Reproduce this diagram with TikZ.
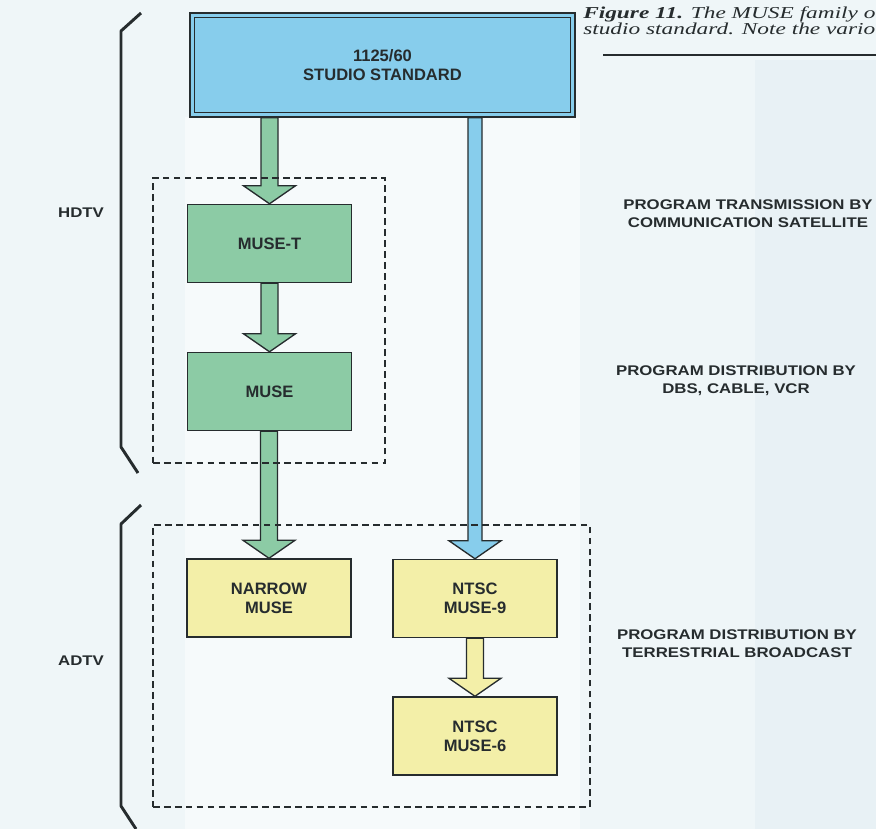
\documentclass[tikz,border=0pt]{standalone}
\usepackage{fontspec}
\setmainfont{Liberation Sans}
\newfontfamily\capfont[FakeStretch=1.4]{Liberation Serif}
\newfontfamily\labfont[FakeStretch=1.2]{Liberation Sans}
\usetikzlibrary{calc}
\definecolor{bgc}{RGB}{239,246,248}
\definecolor{bgw}{RGB}{246,250,251}
\definecolor{bgd}{RGB}{232,241,245}
\definecolor{boxblue}{RGB}{135,205,236}
\definecolor{boxgreen}{RGB}{140,203,165}
\definecolor{boxyellow}{RGB}{243,239,168}
\definecolor{ink}{RGB}{38,44,46}
\newcommand\barrow[4]{% source node, target node, colour, half shaft width
  \draw[arr, fill=#3] ($(#2.north |- #1.south)+(-#4,0)$) -- ($(#2.north)+(-#4,-18)$)
    -- ($(#2.north)+(-26,-18)$) -- (#2.north) -- ($(#2.north)+(26,-18)$)
    -- ($(#2.north)+(#4,-18)$) -- ($(#2.north |- #1.south)+(#4,0)$) -- cycle;}
\begin{document}
\begin{tikzpicture}[x=0.75pt,y=-0.75pt,
  blk/.style={draw=ink, line width=1.1pt, font=\bfseries\fontsize{12.4}{14.2}\selectfont,
    align=center, inner sep=0pt, text=ink, minimum width={164*0.75pt}, minimum height={78*0.75pt}},
  arr/.style={draw=ink, line width=1pt, line join=miter},
  dbox/.style={draw=ink, line width=1.2pt, dash pattern=on 5pt off 3.2pt},
  brk/.style={draw=ink, line width=2.2pt, line join=round},
  lab/.style={font=\labfont\bfseries\fontsize{10.5}{13.5}\selectfont, align=center, text=ink},
  side/.style={font=\labfont\bfseries\fontsize{10.5}{13}\selectfont, text=ink}]
\useasboundingbox (0,0) rectangle (876,829);
\clip (0,0) rectangle (876,829);
\fill[bgc] (0,0) rectangle (876,829);
\fill[bgd] (755,60) rectangle (876,829);
\fill[bgw] (185,117) rectangle (580,829);

% boxes
\node[blk, fill=boxblue, minimum width={385*0.75pt}, minimum height={104*0.75pt}] (top) at (382.5,65) {1125/60\\STUDIO STANDARD};
\draw[ink, line width=1.1pt] ($(top.north west)+(5,5)$) rectangle ($(top.south east)+(-5,-5)$);
\node[blk, fill=boxgreen] (muset) at (269.5,243.5) {MUSE-T};
\node[blk, fill=boxgreen] (muse) at (269.5,391.5) {MUSE};
\node[blk, fill=boxyellow] (narrow) at (269,598) {NARROW\\MUSE};
\node[blk, fill=boxyellow] (ntsc9) at (475,598.5) {NTSC\\MUSE-9};
\node[blk, fill=boxyellow] (ntsc6) at (475,736) {NTSC\\MUSE-6};

% block arrows
\barrow{top}{muset}{boxgreen}{8.5}
\barrow{muset}{muse}{boxgreen}{8.5}
\barrow{muse}{narrow}{boxgreen}{8.5}
\barrow{top}{ntsc9}{boxblue}{7}
\barrow{ntsc9}{ntsc6}{boxyellow}{8.5}

% dashed groups
\node[dbox, minimum width={232*0.75pt}, minimum height={285*0.75pt}, inner sep=0pt] (hgroup) at (269,320.5) {};
\node[dbox, minimum width={437*0.75pt}, minimum height={282*0.75pt}, inner sep=0pt] (agroup) at (371.5,666) {};

% brackets
\coordinate (h1) at (141,13);
\coordinate (h2) at (121,31);
\coordinate (h3) at (121,447);
\coordinate (h4) at (138,473);
\draw[brk] (h1) -- (h2) -- (h3) -- (h4);
\coordinate (a1) at (141,505);
\coordinate (a2) at (121,524);
\coordinate (a3) at (121,806);
\coordinate (a4) at (136,829);
\draw[brk] (a1) -- (a2) -- (a3) -- (a4);

% side labels
\node[side] (hdtv) at (81,213) {HDTV};
\node[side] (adtv) at (81,661) {ADTV};

% right labels
\node[lab] (l1) at (748,214) {PROGRAM TRANSMISSION BY\\COMMUNICATION SATELLITE};
\node[lab] (l2) at (736,381) {PROGRAM DISTRIBUTION BY\\DBS, CABLE, VCR};
\node[lab] (l3) at (737,644) {PROGRAM DISTRIBUTION BY\\TERRESTRIAL BROADCAST};

% caption
\node[anchor=base west, inner sep=0pt, align=left, font=\capfont\itshape\fontsize{12.5}{11.4}\selectfont, text=ink] (cap) at (583,34) {\textbf{Figure 11.} The MUSE family o\\studio standard. Note the vario};
\coordinate (r1) at (603,55);
\coordinate (r2) at (876,55);
\draw[ink, line width=1.4pt] (r1) -- (r2);
\end{tikzpicture}
\end{document}
